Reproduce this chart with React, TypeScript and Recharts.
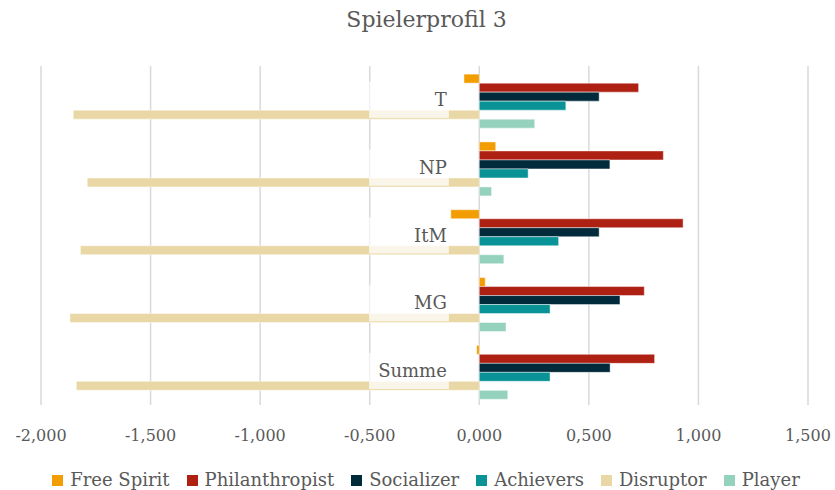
import React from "react";
import {
  BarChart,
  Bar,
  XAxis,
  YAxis,
  CartesianGrid,
  Legend,
} from "recharts";

const categories = ["T", "NP", "ItM", "MG", "Summe"];
const freeSpirit = [-0.07, 0.075, -0.13, 0.027, -0.012];
const philanthropist = [0.727, 0.84, 0.93, 0.753, 0.8];
const socializer = [0.547, 0.596, 0.547, 0.642, 0.597];
const achievers = [0.395, 0.223, 0.362, 0.323, 0.323];
const disruptor = [-1.853, -1.789, -1.82, -1.868, -1.839];
const player = [0.253, 0.056, 0.112, 0.122, 0.13];
const xTicks = [-2, -1.5, -1, -0.5, 0, 0.5, 1, 1.5];

const SERIES = [
  { key: "freeSpirit", name: "Free Spirit", color: "#F29E02" },
  { key: "philanthropist", name: "Philanthropist", color: "#AE2012" },
  { key: "socializer", name: "Socializer", color: "#012A3A" },
  { key: "achievers", name: "Achievers", color: "#0A9396" },
  { key: "disruptor", name: "Disruptor", color: "#E9D8A6" },
  { key: "player", name: "Player", color: "#94D2BD" },
];

const data = categories.map((name, i) => ({
  name,
  freeSpirit: freeSpirit[i],
  philanthropist: philanthropist[i],
  socializer: socializer[i],
  achievers: achievers[i],
  disruptor: disruptor[i],
  player: player[i],
}));

const FONT = "'DejaVu Serif', serif";
const TEXT = "#595959";
const W = 835;
const H = 490;
const M = { top: 66, right: 27, left: 40, bottom: 0 };
const X_MIN = -2;
const X_MAX = 1.5;
const pxPerUnit = (W - M.left - M.right) / (X_MAX - X_MIN);

// category labels sit left of the zero line, on a translucent white box
const renderCategoryTick = (props: any) => {
  const { y, payload } = props;
  const zeroX = M.left + (0 - X_MIN) * pxPerUnit;
  const boxLeft = M.left + (-0.5 - X_MIN) * pxPerUnit;
  const boxRight = zeroX - 30;
  return (
    <g>
      <rect
        x={boxLeft}
        y={y - 18}
        width={boxRight - boxLeft}
        height={36}
        fill="#fff"
        fillOpacity={0.75}
      />
      <text
        x={boxRight - 2}
        y={y}
        dy={6}
        textAnchor="end"
        fill={TEXT}
        fontSize={18}
        fontFamily={FONT}
      >
        {payload.value}
      </text>
    </g>
  );
};

const LegendContent = () => (
  <div
    style={{
      display: "flex",
      justifyContent: "center",
      gap: 17,
      paddingTop: 20,
      paddingLeft: 4,
      fontFamily: FONT,
      fontSize: 18,
      lineHeight: "20px",
      color: TEXT,
    }}
  >
    {SERIES.map((s) => (
      <span key={s.key} style={{ display: "flex", alignItems: "center" }}>
        <span
          style={{
            display: "inline-block",
            width: 11,
            height: 11,
            background: s.color,
            marginRight: 7,
          }}
        />
        {s.name}
      </span>
    ))}
  </div>
);

export default function App() {
  return (
    <div
      style={{
        position: "absolute",
        left: 0,
        top: 0,
        width: W,
        height: H,
        overflow: "hidden",
        background: "#fff",
      }}
    >
      <div
        style={{
          position: "absolute",
          top: 7,
          left: 18,
          width: W - 18,
          textAlign: "center",
          fontFamily: FONT,
          fontSize: 22,
          color: TEXT,
        }}
      >
        Spielerprofil 3
      </div>
      <BarChart
        width={W}
        height={H}
        data={data}
        layout="vertical"
        margin={M}
        barGap={0}
        barCategoryGap="12%"
      >
        <CartesianGrid horizontal={false} stroke="#D9D9D9" strokeWidth={1.5} />
        <XAxis
          type="number"
          domain={[X_MIN, X_MAX]}
          ticks={xTicks}
          axisLine={false}
          tickLine={false}
          height={45}
          tickFormatter={(v: number) => v.toFixed(3).replace(".", ",")}
          tick={{ fill: TEXT, fontSize: 16, fontFamily: FONT }}
          tickMargin={19}
        />
        {SERIES.map((s) => (
          <Bar
            key={s.key}
            dataKey={s.key}
            name={s.name}
            fill={s.color}
            stroke="rgba(255,255,255,0.45)"
            strokeWidth={1}
            isAnimationActive={false}
          />
        ))}
        <YAxis
          type="category"
          dataKey="name"
          width={1}
          axisLine={false}
          tickLine={false}
          interval={0}
          tick={renderCategoryTick}
        />
        <Legend verticalAlign="bottom" height={40} content={<LegendContent />} />
      </BarChart>
    </div>
  );
}
